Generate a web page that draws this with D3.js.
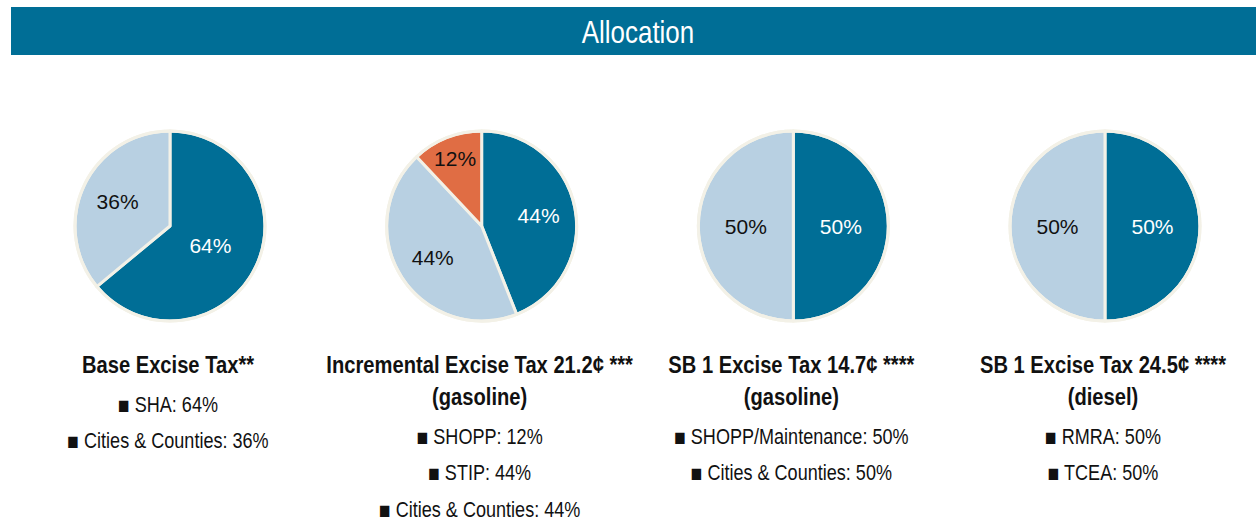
<!DOCTYPE html>
<html>
<head>
<meta charset="utf-8">
<script src="https://cdn.jsdelivr.net/npm/d3@7"></script>
<style>
  body { margin: 0; background: #fff; }
  svg { display: block; }
  text { font-family: "Liberation Sans", Arial, sans-serif; }
</style>
</head>
<body>
<svg id="chart" width="1256" height="523"></svg>
<script>
// Chart data
const chartTitle = "Allocation";
const pieTitles = [
  ["Base Excise Tax**"],
  ["Incremental Excise Tax 21.2¢ ***", "(gasoline)"],
  ["SB 1 Excise Tax 14.7¢ ****", "(gasoline)"],
  ["SB 1 Excise Tax 24.5¢ ****", "(diesel)"]
];
// slices in drawing order, clockwise from 12 o'clock
const sliceNames = [
  ["SHA", "Cities & Counties"],
  ["STIP", "Cities & Counties", "SHOPP"],
  ["SHOPP/Maintenance", "Cities & Counties"],
  ["RMRA", "TCEA"]
];
const sliceValues = [
  [64, 36],
  [44, 44, 12],
  [50, 50],
  [50, 50]
];
// order the names are listed under each title
const legendOrder = [
  ["SHA", "Cities & Counties"],
  ["SHOPP", "STIP", "Cities & Counties"],
  ["SHOPP/Maintenance", "Cities & Counties"],
  ["RMRA", "TCEA"]
];

// Styles
const sliceColors = ["#006e96", "#b8d0e2", "#e06d44"];
const labelColors = ["#ffffff", "#111111", "#111111"];
const edgeColor = "#f3f1e7";

const svg = d3.select("#chart");
const W = 1256;

// Squeezed Liberation Sans to look like Arial Narrow, centred at (x, y)
function narrowText(parent, x, y, size, squeeze, str) {
  return parent.append("text")
      .attr("transform", `translate(${x},${y}) scale(${squeeze},1)`)
      .attr("text-anchor", "middle")
      .attr("dominant-baseline", "central")
      .attr("font-size", size)
      .text(str);
}

// Header bar
svg.append("rect")
    .attr("x", 11).attr("y", 7)
    .attr("width", W - 11).attr("height", 48)
    .attr("fill", "#006e96");
narrowText(svg, 638, 32, 32, 0.81, chartTitle).attr("fill", "#fff");

const x = d3.scalePoint().domain(d3.range(pieTitles.length)).range([170, 1105]);
const r = 95;
const cy = 226;

const pie = d3.pie().sort(null).value(d => d.value);
const arc = d3.arc().innerRadius(0).outerRadius(r);

// how far out the percent sits, as a share of the radius
const labelPos = v => v < 20 ? 0.76 : v > 55 ? 0.47 : v >= 50 ? 0.5 : 0.61;

pieTitles.forEach((title, i) => {
  const data = sliceNames[i].map((name, j) => ({name, value: sliceValues[i][j], k: j}));
  const g = svg.append("g").attr("transform", `translate(${x(i)},${cy})`);

  const arcs = pie(data);

  g.selectAll("path")
    .data(arcs)
    .join("path")
      .attr("d", arc)
      .attr("fill", d => sliceColors[d.data.k])
      .attr("stroke", edgeColor)
      .attr("stroke-width", 3)
      .attr("stroke-linejoin", "round");

  // outer ring
  g.append("circle")
      .attr("r", r)
      .attr("fill", "none")
      .attr("stroke", edgeColor)
      .attr("stroke-width", 3);

  g.selectAll("text.pct")
    .data(arcs)
    .join("text")
      .attr("class", "pct")
      .attr("transform", d => {
        const f = labelPos(d.data.value);
        const [px, py] = d3.arc().innerRadius(0).outerRadius(r * f * 2).centroid(d);
        return `translate(${px},${py})`;
      })
      .attr("text-anchor", "middle")
      .attr("dominant-baseline", "central")
      .attr("font-size", 21)
      .attr("fill", d => labelColors[d.data.k])
      .text(d => d.data.value + "%");

  // title lines
  const tg = svg.append("g");
  const cx = x(i) - 2;
  title.forEach((line, l) => {
    narrowText(tg, cx, 365 + l * 32, 24, 0.84, line)
        .attr("font-weight", "bold")
        .attr("fill", "#111");
  });

  // list of allocations, slightly bigger square bullet
  const top = 365 + title.length * 32 + 7;
  legendOrder[i].forEach((name, l) => {
    const v = data.find(d => d.name === name).value;
    const t = narrowText(tg, cx, top + l * 36.5, 21.5, 0.84, "").attr("fill", "#111");
    t.append("tspan").attr("font-size", 23).text("\u25A0");
    t.append("tspan").text(` ${name}: ${v}%`);
  });
});
</script>
</body>
</html>
